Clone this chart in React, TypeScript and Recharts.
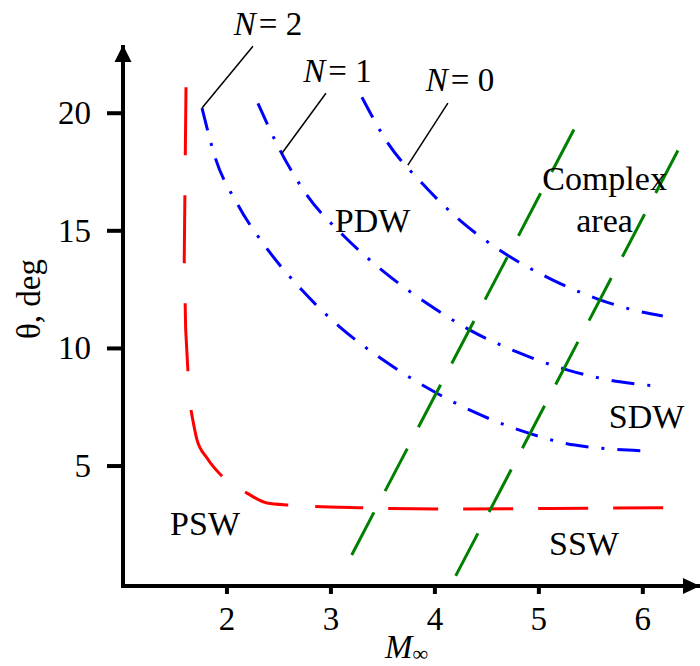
import React from 'react';
import { LineChart, Line, XAxis, YAxis, ReferenceDot } from 'recharts';

const FONT = "'Liberation Serif', 'Times New Roman', serif";

const xTicks = [2, 3, 4, 5, 6];
const yTicks = [5, 10, 15, 20];
const xDomain: [number, number] = [1, 6.55];
const yDomain: [number, number] = [-0.1, 22.9];

// red boundary, upper (near-vertical) part
const redUpper = [
  { x: 1.606, y: 21.1 },
  { x: 1.589, y: 13.8 },
  { x: 1.603, y: 10.8 },
  { x: 1.625, y: 9.0 },
];
// red boundary, lower (bend + horizontal) part
const redLower = [
  { x: 1.654, y: 7.38 },
  { x: 1.712, y: 6.11 },
  { x: 1.808, y: 5.34 },
  { x: 1.962, y: 4.53 },
  { x: 2.192, y: 3.85 },
  { x: 2.385, y: 3.43 },
  { x: 2.606, y: 3.34 },
  { x: 3.327, y: 3.22 },
  { x: 4.144, y: 3.17 },
  { x: 5.106, y: 3.2 },
  { x: 6.21, y: 3.23 },
];

const blueN2 = [
  { x: 1.76, y: 20.22 },
  { x: 1.885, y: 18.14 },
  { x: 2.106, y: 16.1 },
  { x: 2.394, y: 14.19 },
  { x: 2.721, y: 12.48 },
  { x: 3.087, y: 10.91 },
  { x: 3.49, y: 9.55 },
  { x: 3.913, y: 8.36 },
  { x: 4.375, y: 7.3 },
  { x: 4.865, y: 6.45 },
  { x: 5.346, y: 5.89 },
  { x: 6.048, y: 5.64 },
];

const blueN1 = [
  { x: 2.298, y: 20.42 },
  { x: 2.51, y: 18.43 },
  { x: 2.769, y: 16.52 },
  { x: 3.115, y: 14.82 },
  { x: 3.49, y: 13.33 },
  { x: 3.904, y: 11.97 },
  { x: 4.337, y: 10.78 },
  { x: 4.788, y: 9.85 },
  { x: 5.279, y: 9.08 },
  { x: 5.779, y: 8.58 },
  { x: 6.144, y: 8.4 },
];

const blueN0 = [
  { x: 3.298, y: 20.68 },
  { x: 3.548, y: 18.73 },
  { x: 3.875, y: 17.03 },
  { x: 4.25, y: 15.41 },
  { x: 4.654, y: 14.09 },
  { x: 5.096, y: 12.99 },
  { x: 5.567, y: 12.1 },
  { x: 5.913, y: 11.63 },
  { x: 6.192, y: 11.38 },
];

const greenA = [
  { x: 3.2, y: 1.22 },
  { x: 5.41, y: 19.92 },
];
const greenB = [
  { x: 4.2, y: 0.33 },
  { x: 6.41, y: 19.03 },
];

const leaderN2 = [
  { x: 2.25, y: 22.85 },
  { x: 1.76, y: 20.22 },
];
const leaderN1 = [
  { x: 2.952, y: 20.85 },
  { x: 2.529, y: 18.3 },
];
const leaderN0 = [
  { x: 4.125, y: 20.43 },
  { x: 3.74, y: 17.79 },
];

const curveLabels = [
  { x: 2.395, y: 23.33, n: '2' },
  { x: 3.063, y: 21.33, n: '1' },
  { x: 4.242, y: 20.94, n: '0' },
];

const regionLabels = [
  { x: 3.4, y: 14.95, text: 'PDW' },
  { x: 5.632, y: 16.74, text: 'Complex' },
  { x: 5.632, y: 14.95, text: 'area' },
  { x: 6.036, y: 6.62, text: 'SDW' },
  { x: 5.434, y: 1.22, text: 'SSW' },
  { x: 1.789, y: 2.07, text: 'PSW' },
];

const common = {
  dataKey: 'y',
  dot: false,
  activeDot: false,
  isAnimationActive: false,
  connectNulls: true,
};

const XTick = (p: any) => (
  <text x={p.x} y={p.y} dy={34} textAnchor="middle" fontFamily={FONT} fontSize={33} fill="#000">
    {p.payload.value}
  </text>
);
const YTick = (p: any) => (
  <text x={p.x - 16} y={p.y} dy={11} textAnchor="end" fontFamily={FONT} fontSize={33} fill="#000">
    {p.payload.value}
  </text>
);

export default function App() {
  return (
    <div style={{ position: 'absolute', left: 0, top: 0, width: 700, height: 666, background: '#fff' }}>
      <LineChart width={700} height={666} margin={{ top: 45, right: 0, bottom: 0, left: 0 }}>
        <XAxis
          type="number"
          dataKey="x"
          domain={xDomain}
          allowDataOverflow
          ticks={xTicks}
          height={80}
          tickSize={8}
          tickMargin={2}
          axisLine={{ stroke: '#000', strokeWidth: 4, strokeLinecap: 'square' }}
          tickLine={{ stroke: '#000', strokeWidth: 4 }}
          tick={XTick}
          label={(props: any) => {
            const vb = props.viewBox;
            return (
              <text x={vb.x + 262} y={vb.y + 72} fontFamily={FONT} fontSize={33} fill="#000">
                <tspan fontStyle="italic">M</tspan>
                <tspan fontSize={22} dy={3}>∞</tspan>
              </text>
            );
          }}
        />
        <YAxis
          type="number"
          domain={yDomain}
          allowDataOverflow
          ticks={yTicks}
          width={123}
          tickSize={16}
          tickMargin={0}
          axisLine={{ stroke: '#000', strokeWidth: 4 }}
          tickLine={{ stroke: '#000', strokeWidth: 4 }}
          tick={YTick}
          label={(props: any) => {
            const vb = props.viewBox;
            const cx = vb.x + 40;
            const cy = vb.y + 254;
            return (
              <text
                x={cx}
                y={cy}
                textAnchor="middle"
                transform={`rotate(-90, ${cx}, ${cy})`}
                fontFamily={FONT}
                fontSize={33}
                fill="#000"
              >
                θ, deg
              </text>
            );
          }}
        />

        <Line {...common} data={redUpper} type="linear" stroke="#ff0000" strokeWidth={3} strokeDasharray="68 40" />
        <Line
          {...common}
          data={redLower}
          type="monotone"
          stroke="#ff0000"
          strokeWidth={3}
          strokeDasharray="75 28 46 27 48 25 50 25 50 25 50 25 50 25 50 25 50 25"
        />
        <Line {...common} data={blueN2} type="monotone" stroke="#0000ff" strokeWidth={3} strokeDasharray="23 13 3 13" />
        <Line {...common} data={blueN1} type="monotone" stroke="#0000ff" strokeWidth={3} strokeDasharray="23 13 3 13" />
        <Line {...common} data={blueN0} type="monotone" stroke="#0000ff" strokeWidth={3} strokeDasharray="23 13 3 13" />
        <Line {...common} data={greenA} type="linear" stroke="#008000" strokeWidth={3} strokeDasharray="48 24" />
        <Line {...common} data={greenB} type="linear" stroke="#008000" strokeWidth={3} strokeDasharray="48 24" />
        <Line {...common} data={leaderN2} type="linear" stroke="#000" strokeWidth={1.5} />
        <Line {...common} data={leaderN1} type="linear" stroke="#000" strokeWidth={1.5} />
        <Line {...common} data={leaderN0} type="linear" stroke="#000" strokeWidth={1.5} />

        {/* axis arrowheads */}
        <ReferenceDot
          x={xDomain[1]}
          y={yDomain[0]}
          ifOverflow="visible"
          shape={(p: any) => (
            <polygon points={`${p.cx},${p.cy} ${p.cx - 17},${p.cy - 8} ${p.cx - 17},${p.cy + 8}`} fill="#000" />
          )}
        />
        <ReferenceDot
          x={xDomain[0]}
          y={yDomain[1]}
          ifOverflow="visible"
          shape={(p: any) => (
            <polygon points={`${p.cx},${p.cy} ${p.cx - 8.5},${p.cy + 17} ${p.cx + 8.5},${p.cy + 17}`} fill="#000" />
          )}
        />

        {curveLabels.map((l) => (
          <ReferenceDot
            key={'n' + l.n}
            x={l.x}
            y={l.y}
            ifOverflow="visible"
            shape={(p: any) => (
              <text x={p.cx} y={p.cy} textAnchor="middle" fontFamily={FONT} fontSize={33} fill="#000">
                <tspan fontStyle="italic">N</tspan>
                <tspan dx={3}>{'= '}</tspan>
                <tspan>{l.n}</tspan>
              </text>
            )}
          />
        ))}
        {regionLabels.map((l) => (
          <ReferenceDot
            key={l.text}
            x={l.x}
            y={l.y}
            ifOverflow="visible"
            shape={(p: any) => (
              <text x={p.cx} y={p.cy} textAnchor="middle" fontFamily={FONT} fontSize={34} fill="#000">
                {l.text}
              </text>
            )}
          />
        ))}
      </LineChart>
    </div>
  );
}
